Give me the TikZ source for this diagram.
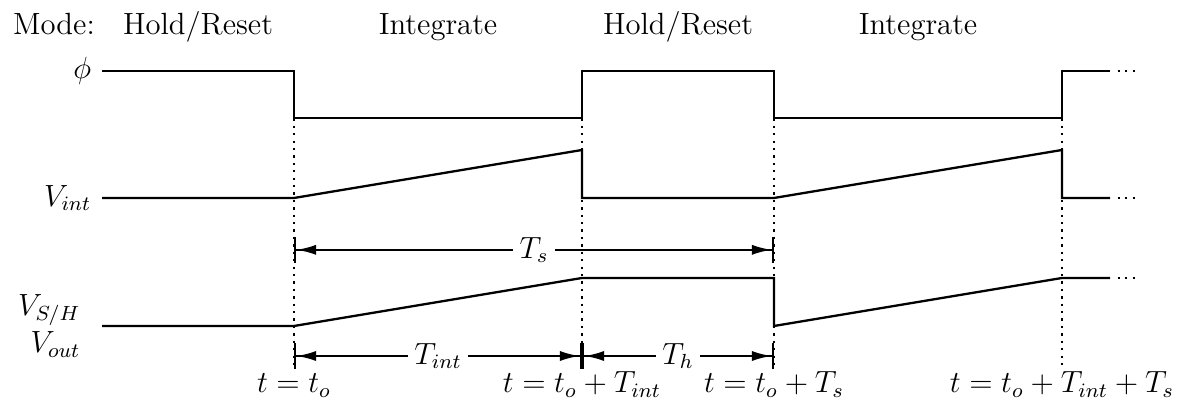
\documentclass[12pt,tikz,border=0pt]{standalone}
\usetikzlibrary{arrows.meta}
\usetikzlibrary{positioning}

\begin{document}
\begin{tikzpicture}[
    x=1.32cm, y=1.32cm,
    sig/.style={line width=0.9pt, line join=miter},
    guide/.style={line width=0.9pt, dotted},
    more/.style={line width=0.9pt, dotted},
    dimarr/.style={line width=0.9pt,
      {Bar[width=10pt]Latex[length=7.8pt,width=4pt]}-{Latex[length=7.8pt,width=4pt]Bar[width=10pt]}},
    dimlbl/.style={fill=white, inner sep=2.5pt},
    modelbl/.style={anchor=base},
    siglbl/.style={anchor=east},
    timelbl/.style={anchor=base},
  ]
  \useasboundingbox (-1.0625,-2.2396) rectangle (11.302,2.0625);

  % === Mode row ===
  \node[modelbl] (mode) at (-0.5,1.708) {Mode:};
  \node[modelbl] (hr1) at (1,1.708) {Hold/Reset};
  \node[modelbl] (in1) at (3.5,1.708) {Integrate};
  \node[modelbl] (hr2) at (6,1.708) {Hold/Reset};
  \node[modelbl] (in2) at (8.5,1.708) {Integrate};

  % === Time guides ===
  \coordinate (g0) at (2,0.83);
  \coordinate (g1) at (5,0.83);
  \coordinate (g2) at (7,0.83);
  \coordinate (g3) at (10,0.83);
  \coordinate (b0) at (2,-1.79);
  \coordinate (b1) at (5,-1.79);
  \coordinate (b2) at (7,-1.79);
  \coordinate (b3) at (10,-1.79);
  \draw[guide] (g0) -- (b0);
  \draw[guide] (g1) -- (b1);
  \draw[guide] (g2) -- (b2);
  \draw[guide] (g3) -- (b3);

  % === phi ===
  \node[siglbl] (phi) at (0,1.32) {$\phi$};
  \draw[sig] (phi.east) -- (2,1.32) -- (2,0.83) -- (5,0.83) -- (5,1.32)
    -- (7,1.32) -- (7,0.83) -- (10,0.83) -- (10,1.32) -- (10.5,1.32);
  \draw[more] (10.58,1.32) -- (10.78,1.32);

  % === V_int ===
  \node[siglbl] (vint) at (0,0) {$V_{int}$};
  \draw[sig] (vint.east) -- (2,0) -- (5,0.5) -- (5,0) -- (7,0) -- (10,0.5)
    -- (10,0) -- (10.5,0);
  \draw[more] (10.58,0) -- (10.78,0);

  % === V_S/H ===
  \node[siglbl, align=right] (vsh) at (-0.115,-1.333) {$V_{S/H}$\\$V_{out}$};
  \coordinate (vs) at (0,-1.333);
  \draw[sig] (vs) -- (2,-1.333) -- (5,-0.833) -- (7,-0.833) -- (7,-1.333)
    -- (10,-0.833) -- (10.5,-0.833);
  \draw[more] (10.58,-0.833) -- (10.78,-0.833);

  % === Dimensions ===
  \coordinate (ts0) at (2,-0.54);
  \coordinate (ts2) at (7,-0.54);
  \coordinate (ti0) at (2,-1.646);
  \coordinate (ti1) at (5,-1.646);
  \coordinate (ti2) at (7,-1.646);
  \draw[dimarr] (ts0) -- node[dimlbl] (tsl) {$T_s$} (ts2);
  \draw[dimarr] (ti0) -- node[dimlbl] (til) {$T_{int}$} (ti1);
  \draw[dimarr] (ti1) -- node[dimlbl] (thl) {$T_h$} (ti2);

  % === Time labels ===
  \node[timelbl] (lt0) at (2,-2.03) {$t=t_o$};
  \node[timelbl] (lt1) at (5,-2.03) {$t=t_o+T_{int}$};
  \node[timelbl] (lt2) at (7,-2.03) {$t=t_o+T_s$};
  \node[timelbl] (lt3) at (10,-2.03) {$t=t_o+T_{int}+T_s$};

\end{tikzpicture}
\end{document}
